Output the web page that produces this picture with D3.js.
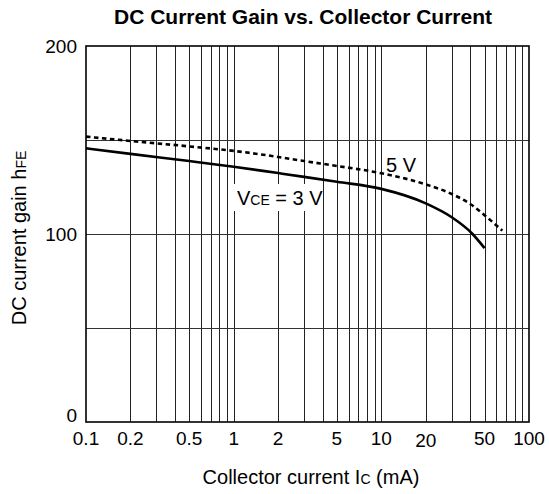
<!DOCTYPE html>
<html><head><meta charset="utf-8">
<script src="https://cdn.jsdelivr.net/npm/d3@7"></script>
<style>body{margin:0;background:#fff}</style>
</head><body>
<svg id="c" width="549" height="494"></svg>
<script>
const ic3  = [0.1, 0.2, 0.5, 1, 2, 3, 5, 10, 20, 30, 41, 50];
const hfe3 = [145.6, 142.6, 138.8, 135.8, 132.4, 130.4, 127.8, 124, 116.3, 108.9, 100.4, 92.5];
const ic5  = [0.1, 0.2, 0.5, 1, 2, 3, 5, 10, 20, 30, 41, 50, 66];
const hfe5 = [151.8, 149.5, 146.6, 144.2, 141, 138.8, 136.2, 132.3, 126.4, 121.3, 115.4, 110, 101.8];
const xTicks = [0.1, 0.2, 0.5, 1, 2, 5, 10, 20, 50, 100];
const xTickLabels = ["0.1", "0.2", "0.5", "1", "2", "5", "10", "20", "50", "100"];
const yTicks = [0, 100, 200];
const yGrid = [50, 100, 150];

const svg = d3.select("#c");
const L = 86, R = 529, T = 46, B = 422;
const x = d3.scaleLog().domain([0.1, 100]).range([L, R]);
const y = d3.scaleLinear().domain([0, 200]).range([B, T]);
const font = "Liberation Sans, Arial, Helvetica, sans-serif";

// title
svg.append("text").attr("x", 303).attr("y", 24).attr("text-anchor", "middle")
  .attr("font-family", font).attr("font-weight", "bold").attr("font-size", 21)
  .text("DC Current Gain vs. Collector Current");

// vertical grid (1..9 per decade)
const vg = [];
[0.1, 1, 10].forEach(d => { for (let k = 1; k <= 9; k++) vg.push(+(d * k).toPrecision(3)); });
svg.append("g").selectAll("line").data(vg.filter(v => v > 0.1)).join("line")
  .attr("x1", d => Math.round(x(d)) + 0.5).attr("x2", d => Math.round(x(d)) + 0.5)
  .attr("y1", T).attr("y2", B).attr("stroke", "#222").attr("stroke-width", 1);
svg.append("g").selectAll("line").data(yGrid).join("line")
  .attr("x1", L).attr("x2", R).attr("y1", d => Math.round(y(d)) + 0.5).attr("y2", d => Math.round(y(d)) + 0.5)
  .attr("stroke", "#333").attr("stroke-width", 1);

// frame
svg.append("rect").attr("x", L).attr("y", T).attr("width", R - L).attr("height", B - T)
  .attr("fill", "none").attr("stroke", "#000").attr("stroke-width", 1.6);

// curves
const line = d3.line().x(d => x(d[0])).y(d => y(d[1])).curve(d3.curveMonotoneX);
svg.append("path").datum(ic5.map((v, i) => [v, hfe5[i]])).attr("d", line)
  .attr("fill", "none").attr("stroke", "#000").attr("stroke-width", 2.6).attr("stroke-dasharray", "4.5,3.5");
svg.append("path").datum(ic3.map((v, i) => [v, hfe3[i]])).attr("d", line)
  .attr("fill", "none").attr("stroke", "#000").attr("stroke-width", 2.6);

// curve labels
svg.append("rect").attr("x", 234).attr("y", 184).attr("width", 89).attr("height", 27).attr("fill", "#fff");
const t3 = svg.append("text").attr("x", 237).attr("y", 205).attr("font-family", font).attr("font-size", 20);
t3.append("tspan").text("V");
t3.append("tspan").attr("font-size", 14).text("CE");
t3.append("tspan").text(" = 3 V");
svg.append("text").attr("x", 386).attr("y", 172).attr("font-family", font).attr("font-size", 20).text("5 V");

// x tick labels
svg.append("g").selectAll("text").data(xTicks).join("text")
  .attr("x", d => x(d)).attr("y", (d, i) => xTickLabels[i] === "20" ? 447 : 445)
  .attr("text-anchor", "middle").attr("font-family", font).attr("font-size", 19)
  .text((d, i) => xTickLabels[i]);

// y tick labels
svg.append("g").selectAll("text").data(yTicks).join("text")
  .attr("x", 77).attr("y", d => d === 0 ? B : y(d) + 6.8)
  .attr("text-anchor", "end").attr("font-family", font).attr("font-size", 19)
  .text(d => d);

// axis titles
const xt = svg.append("text").attr("x", 311).attr("y", 484).attr("text-anchor", "middle")
  .attr("font-family", font).attr("font-size", 20);
xt.append("tspan").text("Collector current I");
xt.append("tspan").attr("font-size", 14).text("C");
xt.append("tspan").text(" (mA)");

const yt = svg.append("text").attr("transform", "translate(26,238) rotate(-90)")
  .attr("text-anchor", "middle").attr("font-family", font).attr("font-size", 20);
yt.append("tspan").text("DC current gain h");
yt.append("tspan").attr("font-size", 14).text("FE");
</script>
</body></html>
